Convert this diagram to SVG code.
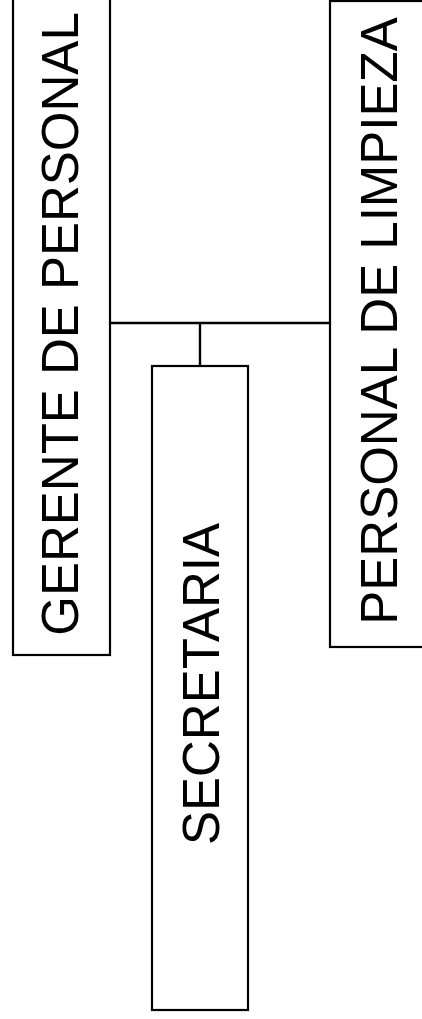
<svg xmlns="http://www.w3.org/2000/svg" width="422" height="1019" viewBox="0 0 422 1019">
<style>
.box{fill:#fff;stroke:#000;stroke-width:2.2}
.lbl{font-family:"Liberation Sans",Arial,sans-serif;font-size:51px;fill:#000;text-anchor:middle}
.con{stroke:#000;stroke-width:2.4;fill:none}
</style>
<rect width="422" height="1019" fill="#fff"/>
<g id="connectors">
<path class="con" d="M110 323 H330 M200 323 V366"/>
</g>
<g id="gerente">
<rect class="box" x="13" y="-5" width="97" height="660"/>
<text class="lbl" transform="translate(78 324) rotate(-90)">GERENTE DE PERSONAL</text>
</g>
<g id="secretaria">
<rect class="box" x="152" y="366" width="96" height="644"/>
<text class="lbl" transform="translate(219 684) rotate(-90)">SECRETARIA</text>
</g>
<g id="limpieza">
<rect class="box" x="330" y="1" width="100" height="646"/>
<text class="lbl" transform="translate(397 321) rotate(-90)">PERSONAL DE LIMPIEZA</text>
</g>
</svg>
